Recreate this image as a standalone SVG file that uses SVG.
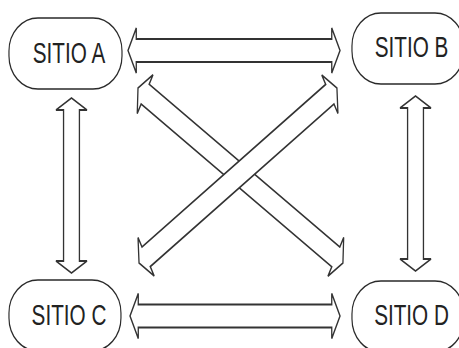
<svg xmlns="http://www.w3.org/2000/svg" width="459" height="348" viewBox="0 0 459 348">
<style>
.box{fill:#fff;stroke:#2a2a2a;stroke-width:1.7}
.lbl{font-family:"Liberation Sans",Arial,sans-serif;font-size:30px;fill:#222;text-anchor:middle}
.arr{fill:#fff;stroke:#333;stroke-width:1.9;stroke-linejoin:miter}
</style>
<rect width="459" height="348" fill="#fff"/>
<g transform="scale(0.69,1)">
<g id="connectors">
<polygon class="arr" points="185.5,50.5 197.5,28 197.5,39 480.8,39 480.8,28 492.8,50.5 480.8,73 480.8,62 197.5,62 197.5,73"/>
<polygon class="arr" points="188.4,316 200.4,293.5 200.4,304.5 480.8,304.5 480.8,293.5 492.8,316 480.8,338.5 480.8,327.5 200.4,327.5 200.4,338.5"/>
<polygon class="arr" points="103.6,98 126.1,110 115.1,110 115.1,261 126.1,261 103.6,273 81.1,261 92.1,261 92.1,110 81.1,110"/>
<polygon class="arr" points="602.2,96 624.7,108 613.7,108 613.7,259 624.7,259 602.2,271 579.7,259 590.7,259 590.7,108 579.7,108"/>
<polygon class="arr" transform="translate(348.5,175.5) rotate(30.5)" points="-172.35,0 -160.35,-22.5 -160.35,-11.5 160.35,-11.5 160.35,-22.5 172.35,0 160.35,22.5 160.35,11.5 -160.35,11.5 -160.35,22.5"/>
<polygon class="arr" transform="translate(344.9,175.5) rotate(-31.4)" points="-168,0 -156,-22.5 -156,-11.5 156,-11.5 156,-22.5 168,0 156,22.5 156,11.5 -156,11.5 -156,22.5"/>
</g>
<g id="sitio-a"><rect class="box" x="13" y="18" width="163.8" height="71" rx="42" ry="33"/><text class="lbl" x="100" y="63">SITIO A</text></g>
<g id="sitio-b"><rect class="box" x="510.1" y="13" width="162.3" height="71" rx="42" ry="33"/><text class="lbl" x="596.4" y="57">SITIO B</text></g>
<g id="sitio-c"><rect class="box" x="13" y="280" width="162.3" height="71" rx="42" ry="33"/><text class="lbl" x="100" y="325">SITIO C</text></g>
<g id="sitio-d"><rect class="box" x="510.1" y="281" width="162.3" height="71" rx="42" ry="33"/><text class="lbl" x="596.4" y="325">SITIO D</text></g>
</g>
</svg>
